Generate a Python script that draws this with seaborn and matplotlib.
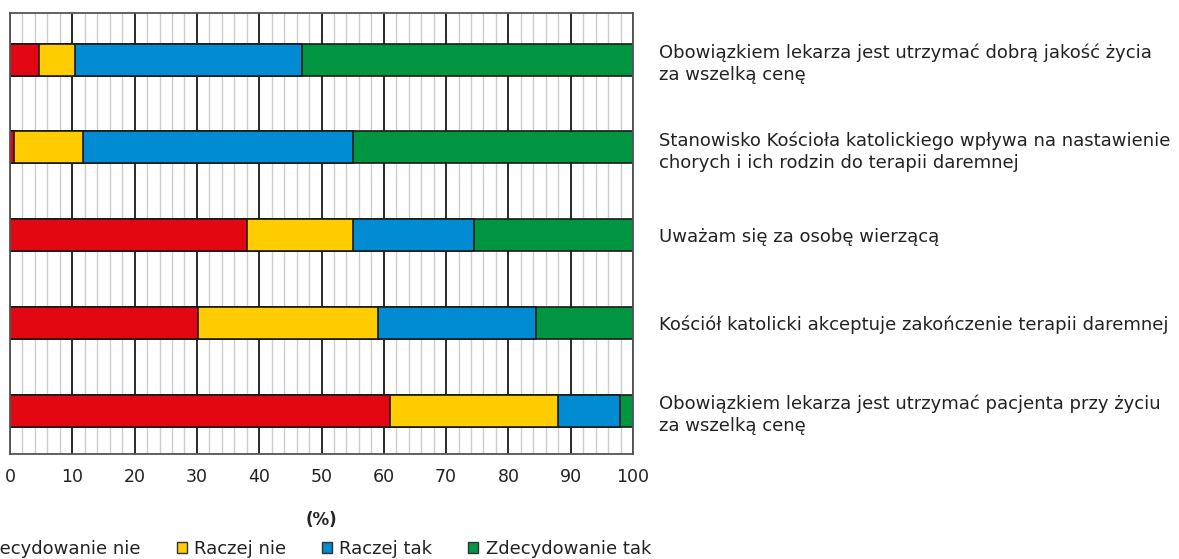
import numpy as np
import pandas as pd
import matplotlib
matplotlib.use("Agg")
import matplotlib.pyplot as plt
from matplotlib.patches import Patch
import seaborn as sns

# statements, top to bottom
statements = [
    "Obowiązkiem lekarza jest utrzymać dobrą jakość życia\nza wszelką cenę",
    "Stanowisko Kościoła katolickiego wpływa na nastawienie\nchorych i ich rodzin do terapii daremnej",
    "Uważam się za osobę wierzącą",
    "Kościół katolicki akceptuje zakończenie terapii daremnej",
    "Obowiązkiem lekarza jest utrzymać pacjenta przy życiu\nza wszelką cenę",
]
answers = ["Zdecydowanie nie", "Raczej nie", "Raczej tak", "Zdecydowanie tak"]
zdecydowanie_nie = [4.7, 0.6, 38.0, 30.2, 61.0]
raczej_nie = [5.7, 11.1, 17.1, 28.9, 27.0]
raczej_tak = [36.5, 43.4, 19.4, 25.3, 9.9]
zdecydowanie_tak = [53.1, 44.9, 25.5, 15.6, 2.1]
colors = ["#E30613", "#FFCC00", "#008BD2", "#009540"]

sns.set_style("white")
plt.rcParams["font.family"] = ["DejaVu Sans"]

df = pd.DataFrame({"statement": statements})
parts = [zdecydowanie_nie, raczej_nie, raczej_tak, zdecydowanie_tak]
cum = np.cumsum(np.array(parts), axis=0)
for name, c in zip(answers, cum):
    df[name] = c

fig = plt.figure(figsize=(11.79, 5.59), dpi=100)
ax = fig.add_axes([10 / 1179, 1 - 454 / 559, 623 / 1179, 441 / 559])

# draw cumulative bars from the longest to the shortest
for name, col in reversed(list(zip(answers, colors))):
    sns.barplot(data=df, x=name, y="statement", orient="h", color=col,
                width=0.364, edgecolor="#1a1a1a", linewidth=1.2,
                saturation=1, ax=ax)

ax.set_xlim(0, 100)
ax.set_ylim(4.49, -0.53)
ax.set_xticks(np.arange(0, 101, 10))
ax.set_xticks(np.arange(0, 101, 2), minor=True)
ax.set_axisbelow(True)
ax.grid(which="minor", axis="x", color="#cccccc", linewidth=1.0)
ax.grid(which="major", axis="x", color="#2a2a2a", linewidth=1.4)
for s in ax.spines.values():
    s.set_visible(True)
    s.set_color("#555555")
    s.set_linewidth(1.3)

ax.tick_params(axis="x", which="both", length=0, pad=10, labelsize=12.5, labelcolor="#222222")
ax.tick_params(axis="y", which="both", length=0, pad=19, labelsize=13,
               labelleft=False, labelright=True, labelcolor="#222222")
for t in ax.get_yticklabels():
    t.set_linespacing(1.3)
    t.set_ha("left")
ax.set_ylabel("")
ax.set_xlabel("(%)", fontsize=12, fontweight="bold", labelpad=18, color="#222222")

handles = [Patch(facecolor=c, edgecolor="#333333", linewidth=1.0) for c in colors]
fig.legend(handles, answers, loc="center", bbox_to_anchor=(305 / 1179, 1 - 549 / 559),
           ncol=4, frameon=False, fontsize=13, handlelength=0.55, handleheight=0.55,
           handletextpad=0.4, columnspacing=2.0, labelcolor="#222222")

fig.savefig("out.png", dpi=100)
